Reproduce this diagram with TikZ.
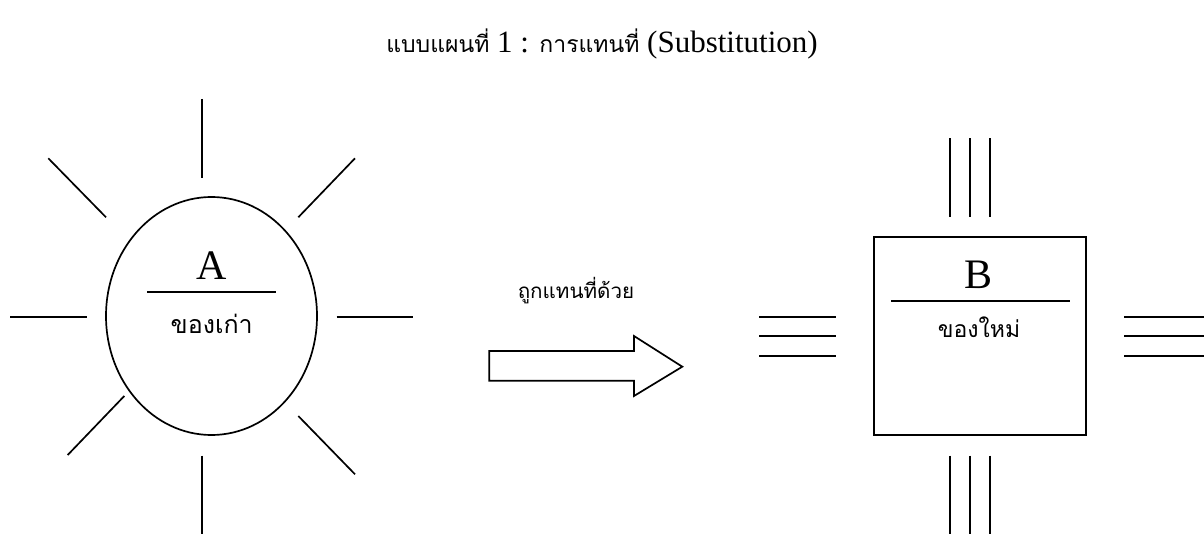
\documentclass[tikz,border=0pt]{standalone}
\usepackage{fontspec}
\setmainfont{Liberation Serif}
\newfontfamily\thai[Script=Thai]{Loma}
\usetikzlibrary{shapes.geometric}
\tikzset{
  ln/.style={line width=1.7pt, line cap=butt},
  ttl/.style={anchor=base, inner sep=0pt, font=\fontsize{31}{34}\selectfont},
  ttlthai/.style={font=\thai\fontsize{23}{26}\selectfont},
  big/.style={anchor=base, inner sep=0pt, font=\fontsize{42}{42}\selectfont},
  th/.style={inner sep=0pt, font=\thai\fontsize{25}{27}\selectfont},
}
\begin{document}
\begin{tikzpicture}[x=1pt,y=-1pt]
\useasboundingbox (0,0) rectangle (1204,534);
% title
\node[ttl] (title) at (602,53) {{\thai\fontsize{23}{26}\selectfont แบบแผนที่} 1 : {\thai\fontsize{23}{26}\selectfont การแทนที่} (Substitution)};
% left: ellipse with rays
\node[draw, ln, ellipse, minimum width=211pt, minimum height=238pt, inner sep=0pt] (A) at (211.5,316) {};
\node[big] (Alab) at (211.7,280) {A};
\draw[ln] (147,292.3) -- (276,292.3);
\node[th] (Aold) at (211.7,324) {ของเก่า};
\draw[ln] (201.7,99) -- (201.7,177.7);
\draw[ln] (201.7,455.7) -- (201.7,534);
\draw[ln] (10,316.7) -- (86.7,316.7);
\draw[ln] (336.7,316.7) -- (412.7,316.7);
\draw[ln] (48.3,158.3) -- (106,217.3);
\draw[ln] (355,158.3) -- (298.3,217.3);
\draw[ln] (124.3,396) -- (67.7,455);
\draw[ln] (298.3,416) -- (355,474.3);
% middle arrow
\node[th, font=\thai\fontsize{20.6}{22}\selectfont] (sub) at (576,291) {ถูกแทนที่ด้วย};
\draw[ln, line join=miter] (489.3,351) -- (634,351) -- (634,336) -- (682.3,366.7) -- (634,396) -- (634,380.7) -- (489.3,380.7) -- cycle;
% right: square with triple lines
\node[draw, ln, minimum width=212pt, minimum height=198pt, inner sep=0pt] (B) at (979.7,336.3) {};
\node[big] (Blab) at (978.5,288.3) {B};
\draw[ln] (891.3,300.7) -- (1070,300.7);
\node[th, font=\thai\fontsize{23}{25}\selectfont] (Bnew) at (979,327) {ของใหม่};
\foreach \x in {950.3,970,989.7} {
  \draw[ln] (\x,138.3) -- (\x,217.3);
  \draw[ln] (\x,455.7) -- (\x,534);
}
\foreach \y in {316.7,336.3,356} {
  \draw[ln] (759,\y) -- (835.7,\y);
  \draw[ln] (1124,\y) -- (1204,\y);
}
\end{tikzpicture}
\end{document}
